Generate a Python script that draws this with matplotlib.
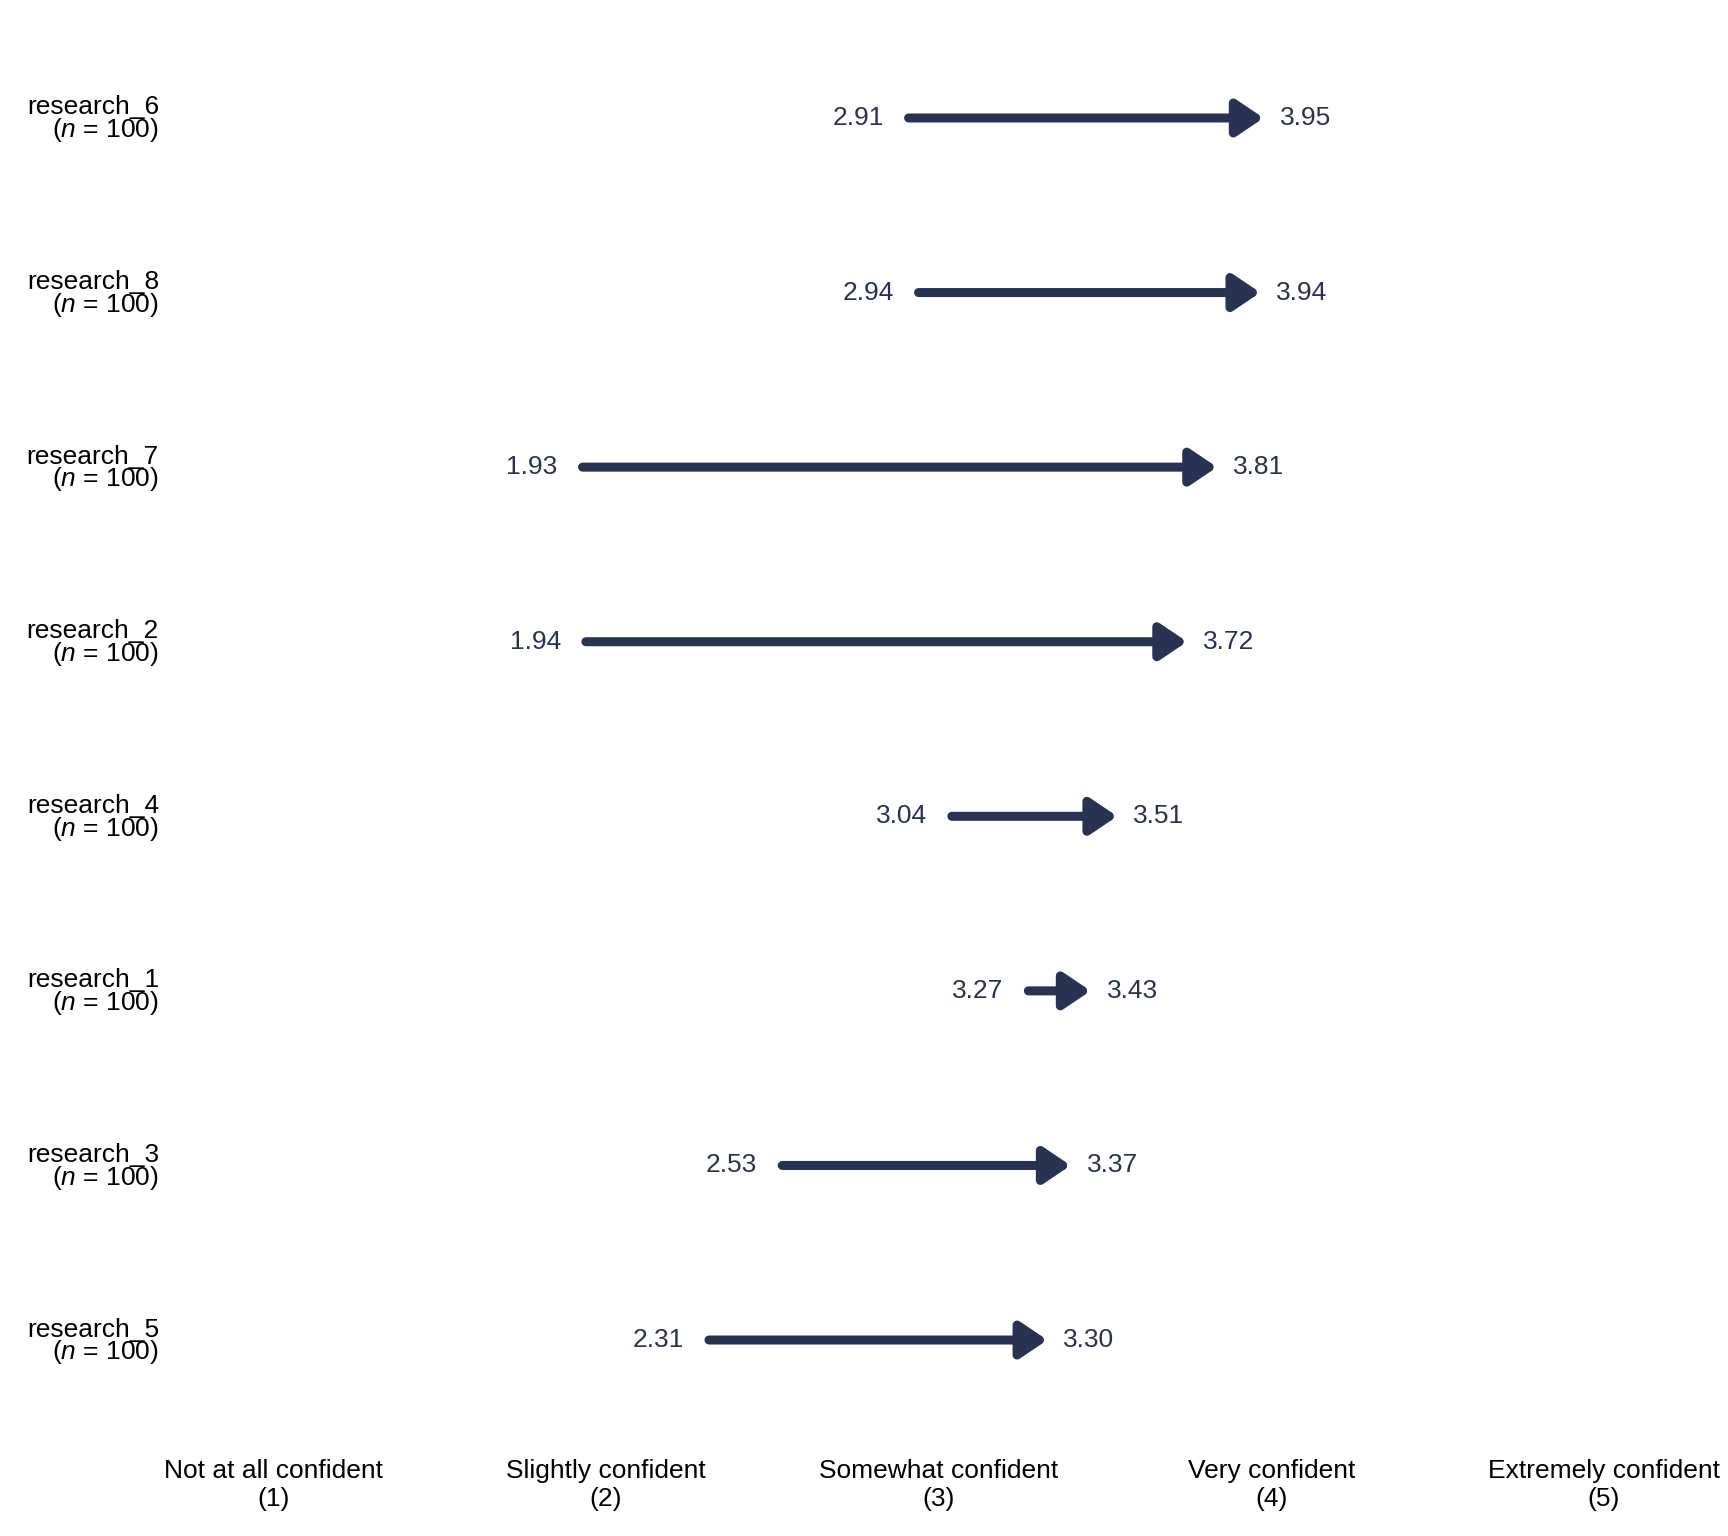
import matplotlib
matplotlib.use("Agg")
import matplotlib.pyplot as plt
from matplotlib.transforms import offset_copy

plt.rcParams['font.family'] = ['Liberation Sans', 'DejaVu Sans']
plt.rcParams['mathtext.fontset'] = 'custom'
plt.rcParams['mathtext.it'] = 'Liberation Sans:italic'
plt.rcParams['mathtext.rm'] = 'Liberation Sans'

# data, bottom row first
items = ["research_5", "research_3", "research_1", "research_4",
         "research_2", "research_7", "research_8", "research_6"]
n_resp = [100, 100, 100, 100, 100, 100, 100, 100]
pre = [2.31, 2.53, 3.27, 3.04, 1.94, 1.93, 2.94, 2.91]
post = [3.30, 3.37, 3.43, 3.51, 3.72, 3.81, 3.94, 3.95]
scale_vals = [1, 2, 3, 4, 5]
scale_labels = ["Not at all confident", "Slightly confident", "Somewhat confident",
                "Very confident", "Extremely confident"]

navy = "#283353"
fs = 19

fig = plt.figure(figsize=(17.28, 15.36), dpi=100)
W, H = 1728, 1536
ax = fig.add_axes([170 / W, 1 - 1435 / H, (W - 170) / W, (1435 - 30) / H])

# the round join of the head sticks out a little past the value, like in ggplot
tip_shift = offset_copy(ax.transData, fig=fig, x=6.5, y=0, units="points")

ys = list(range(1, len(items) + 1))
for y, a, b in zip(ys, pre, post):
    ax.annotate("", xy=(b, y), xycoords=tip_shift, xytext=(a, y), textcoords="data",
                arrowprops=dict(arrowstyle="-|>,head_length=0.4,head_width=0.27",
                                mutation_scale=40, lw=6.5, color=navy,
                                shrinkA=0, shrinkB=0, joinstyle="round",
                                capstyle="round"))
    ax.annotate(f"{a:.2f}", xy=(a, y), xytext=(-18, 0), textcoords="offset points",
                ha="right", va="center", fontsize=fs, color=navy)
    ax.annotate(f"{b:.2f}", xy=(b, y), xytext=(18, 0), textcoords="offset points",
                ha="left", va="center", fontsize=fs, color=navy)

ax.set_xlim(0.690, 5.373)
ax.set_ylim(0.456, 8.504)
ax.set_xticks(scale_vals)
ax.set_xticklabels([f"{lab}\n({v})" for lab, v in zip(scale_labels, scale_vals)],
                   fontsize=fs, linespacing=1.24)
ax.set_yticks(ys)
ax.set_yticklabels([f"{it}\n($n$ = {n})" for it, n in zip(items, n_resp)],
                   fontsize=fs, linespacing=0.85, ha="right")
ax.tick_params(axis="both", length=0, colors="black")
ax.tick_params(axis="x", pad=17)
ax.tick_params(axis="y", pad=8)
for s in ax.spines.values():
    s.set_visible(False)

fig.savefig("out.png", dpi=100)
